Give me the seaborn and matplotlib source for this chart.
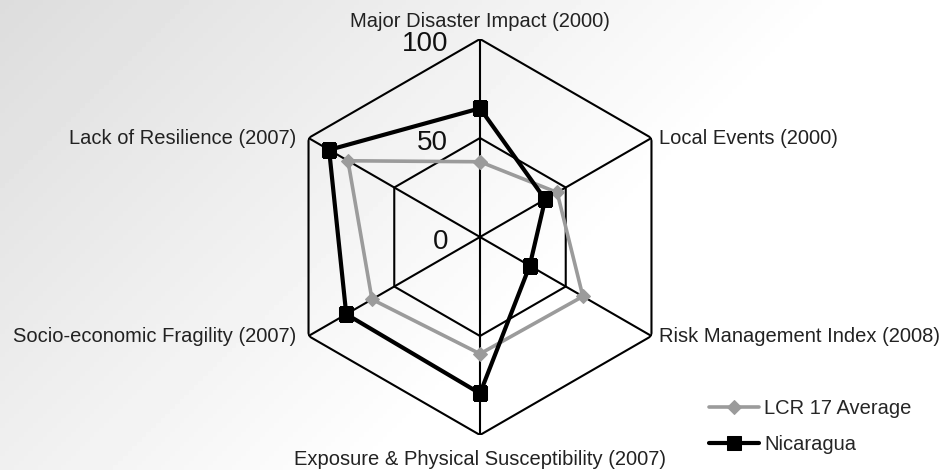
import numpy as np
import pandas as pd
import matplotlib
matplotlib.use('Agg')
import matplotlib.pyplot as plt
import seaborn as sns

# data
categories = ['Major Disaster Impact (2000)', 'Local Events (2000)',
              'Risk Management Index (2008)', 'Exposure & Physical Susceptibility (2007)',
              'Socio-economic Fragility (2007)', 'Lack of Resilience (2007)']
lcr_avg = [38, 45, 60, 59, 63, 77]
nicaragua = [65, 38, 29, 79, 78, 88]
r_ticks = [0, 50, 100]
r_tick_labels = ['0', '50', '100']
series_names = ['LCR 17 Average', 'Nicaragua']

sns.set_style('white')
plt.rcParams['font.family'] = ['Liberation Sans', 'DejaVu Sans']

W, H = 945, 470
fig = plt.figure(figsize=(W / 100, H / 100), dpi=100)

# diagonal grey -> white background
bg = fig.add_axes([0, 0, 1, 1])
xx, yy = np.meshgrid(np.linspace(0, W, 200), np.linspace(0, H, 100))
t = np.clip(xx / 850 + yy / 850, 0, 1)
bg.imshow(0.865 + 0.135 * t, cmap='gray', vmin=0, vmax=1, aspect='auto',
          extent=[0, 1, 0, 1], origin='upper')
bg.axis('off')

# polar axes centred at (480, 237) px with radius 198 px
cx, cy, R = 480, 237, 198
ax = fig.add_axes([(cx - R) / W, (H - cy - R) / H, 2 * R / W, 2 * R / H], projection='polar')
ax.set_theta_zero_location('N')
ax.set_theta_direction(-1)
ax.set_ylim(0, 100)
ax.patch.set_alpha(0)
ax.grid(False)
ax.spines['polar'].set_visible(False)

n = len(categories)
theta = np.arange(n) * 2 * np.pi / n
theta_closed = np.append(theta, 2 * np.pi)

# hexagon grid and spokes
for lvl in r_ticks[1:]:
    ax.plot(theta_closed, [lvl] * (n + 1), color='black', lw=1.5, zorder=1)
for th in theta:
    ax.plot([th, th], [0, r_ticks[-1]], color='black', lw=1.5, zorder=1)

def closed(vals):
    return pd.DataFrame({'theta': theta_closed, 'r': list(vals) + [vals[0]]})

sns.lineplot(data=closed(lcr_avg), x='theta', y='r', sort=False, estimator=None, ax=ax,
             color='#9b9b9b', lw=2.6, marker='D', markersize=7, markeredgecolor='#9b9b9b',
             label=series_names[0], zorder=3)
sns.lineplot(data=closed(nicaragua), x='theta', y='r', sort=False, estimator=None, ax=ax,
             color='black', lw=3, marker='s', markersize=10.5, markeredgecolor='black',
             label=series_names[1], zorder=4)
ax.set_xlabel('')
ax.set_ylabel('')
ax.set_xticks([])
ax.set_yticks([])

# category labels
fs = 14.5
offsets = [((0, 12), 'center', 'baseline'), ((8, 0), 'left', 'center'),
           ((8, 0), 'left', 'center'), ((0, -15), 'center', 'top'),
           ((-12, 0), 'right', 'center'), ((-12, 0), 'right', 'center')]
for th, lab, (off, ha, va) in zip(theta, categories, offsets):
    ax.annotate(lab, xy=(th, r_ticks[-1]), xytext=off, textcoords='offset pixels',
                ha=ha, va=va, fontsize=fs, color='#222222', annotation_clip=False)

# radial tick labels along the top spoke
for v, lab in zip(r_ticks, r_tick_labels):
    ax.annotate(lab, xy=(0, v), xytext=(-32, -5), textcoords='offset pixels',
                ha='right', va='center', fontsize=20, color='#111111', annotation_clip=False)

ax.legend(loc='upper left', bbox_to_anchor=(699 / W, (H - 389) / H),
          bbox_transform=fig.transFigure, frameon=False, fontsize=fs, borderpad=0,
          handlelength=2.5, handletextpad=0.25, labelspacing=0.85)

fig.savefig('out.png', dpi=100)
